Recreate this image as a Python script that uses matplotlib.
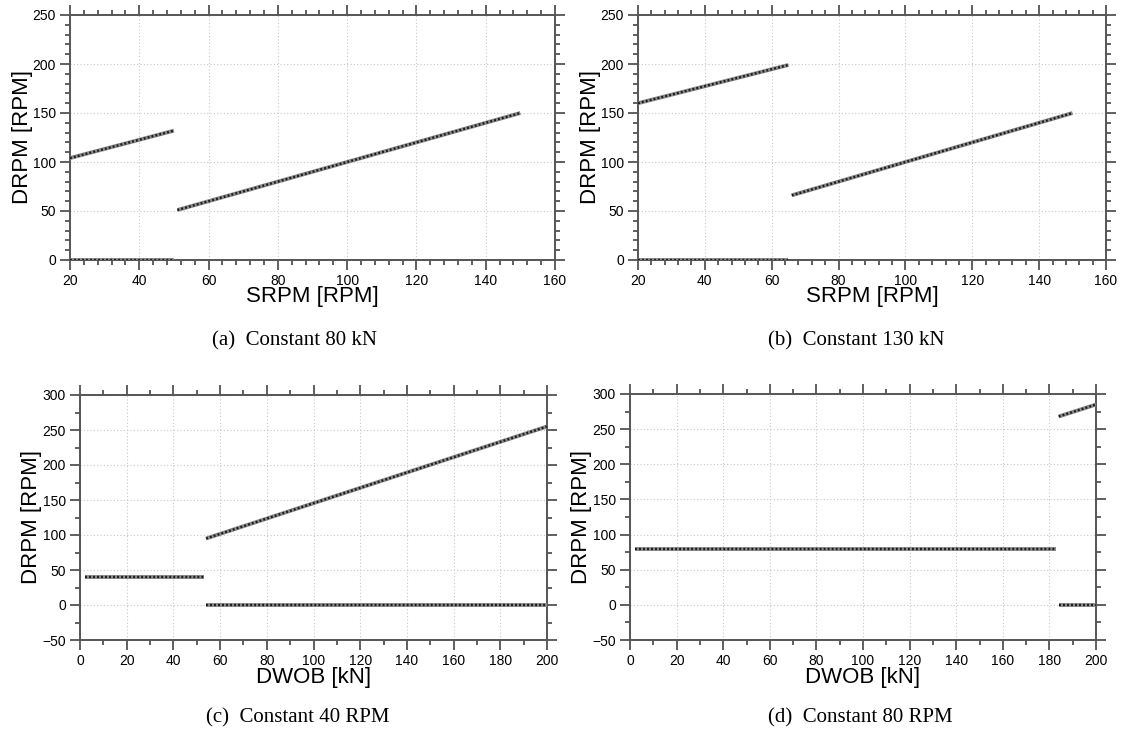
import matplotlib
matplotlib.use("Agg")
from matplotlib import pyplot as plt
from matplotlib.ticker import MultipleLocator

plt.rcParams['font.family'] = ['Liberation Sans', 'DejaVu Sans']

# panel (a): constant 80 kN, x = SRPM
a_zero_x = [20, 50]
a_zero_y = [0, 0]
a_up_x = [20, 50]
a_up_y = [104, 132]
a_low_x = [51, 150]
a_low_y = [51, 150]

# panel (b): constant 130 kN, x = SRPM
b_zero_x = [20, 65]
b_zero_y = [0, 0]
b_up_x = [20, 65]
b_up_y = [160, 199]
b_low_x = [66, 150]
b_low_y = [66, 150]

# panel (c): constant 40 RPM, x = DWOB
c_flat_x = [2, 53]
c_flat_y = [40, 40]
c_zero_x = [54, 200]
c_zero_y = [0, 0]
c_up_x = [54, 200]
c_up_y = [95, 255]

# panel (d): constant 80 RPM, x = DWOB
d_flat_x = [2, 183]
d_flat_y = [80, 80]
d_zero_x = [184, 200]
d_zero_y = [0, 0]
d_up_x = [184, 200]
d_up_y = [268, 285]

captions = ['(a)  Constant 80 kN', '(b)  Constant 130 kN',
            '(c)  Constant 40 RPM', '(d)  Constant 80 RPM']

W, H = 1123, 735
fig = plt.figure(figsize=(W / 100, H / 100), dpi=100)


def add_ax(x0, y0, x1, y1):
    return fig.add_axes([x0 / W, 1 - y1 / H, (x1 - x0) / W, (y1 - y0) / H])


def seg(ax, xs, ys):
    # dense point series drawn as a speckled line
    ax.plot(xs, ys, color='#8a8a8a', lw=2.8, solid_capstyle='butt', zorder=3)
    ax.plot(xs, ys, color='#1a1a1a', lw=1.7, dashes=(0.8, 0.9), zorder=4)


def style(ax, xlim, ylim, xmaj, xmin, ymaj, ymin, xlabel):
    ax.set_xlim(*xlim)
    ax.set_ylim(*ylim)
    ax.xaxis.set_major_locator(MultipleLocator(xmaj))
    ax.xaxis.set_minor_locator(MultipleLocator(xmin))
    ax.yaxis.set_major_locator(MultipleLocator(ymaj))
    ax.yaxis.set_minor_locator(MultipleLocator(ymin))
    ax.tick_params(which='both', direction='out', top=True, right=True,
                   colors='#444444', labelcolor='black', labelsize=10, width=1.2)
    ax.tick_params(which='major', length=7, pad=3)
    ax.tick_params(which='minor', length=3.5)
    for s in ax.spines.values():
        s.set_color('#555555')
        s.set_linewidth(1.4)
    ax.grid(True, which='major', color='#c8c8c8', linestyle=(0, (1, 2)), lw=0.8)
    ax.set_axisbelow(True)
    ax.set_xlabel(xlabel, fontsize=16, labelpad=-1)
    ax.set_ylabel('DRPM [RPM]', fontsize=16, labelpad=0)


ax_a = add_ax(70, 15, 555, 260)
seg(ax_a, a_zero_x, a_zero_y)
seg(ax_a, a_up_x, a_up_y)
seg(ax_a, a_low_x, a_low_y)
style(ax_a, (20, 160), (0, 250), 20, 4, 50, 10, 'SRPM [RPM]')

ax_b = add_ax(638, 15, 1106, 260)
seg(ax_b, b_zero_x, b_zero_y)
seg(ax_b, b_up_x, b_up_y)
seg(ax_b, b_low_x, b_low_y)
style(ax_b, (20, 160), (0, 250), 20, 4, 50, 10, 'SRPM [RPM]')

ax_c = add_ax(80, 395, 547, 640)
seg(ax_c, c_flat_x, c_flat_y)
seg(ax_c, c_zero_x, c_zero_y)
seg(ax_c, c_up_x, c_up_y)
style(ax_c, (0, 200), (-50, 300), 20, 10, 50, 25, 'DWOB [kN]')

ax_d = add_ax(630, 394, 1096, 640)
seg(ax_d, d_flat_x, d_flat_y)
seg(ax_d, d_zero_x, d_zero_y)
seg(ax_d, d_up_x, d_up_y)
style(ax_d, (0, 200), (-50, 300), 20, 10, 50, 25, 'DWOB [kN]')

cap_pos = [(295, 341), (856, 341), (298, 718), (860, 718)]
for (cx, cy), txt in zip(cap_pos, captions):
    fig.text(cx / W, 1 - cy / H, txt, ha='center', va='center',
             fontsize=15, family=['Liberation Serif', 'DejaVu Serif'])

fig.savefig('out.png', dpi=100)
